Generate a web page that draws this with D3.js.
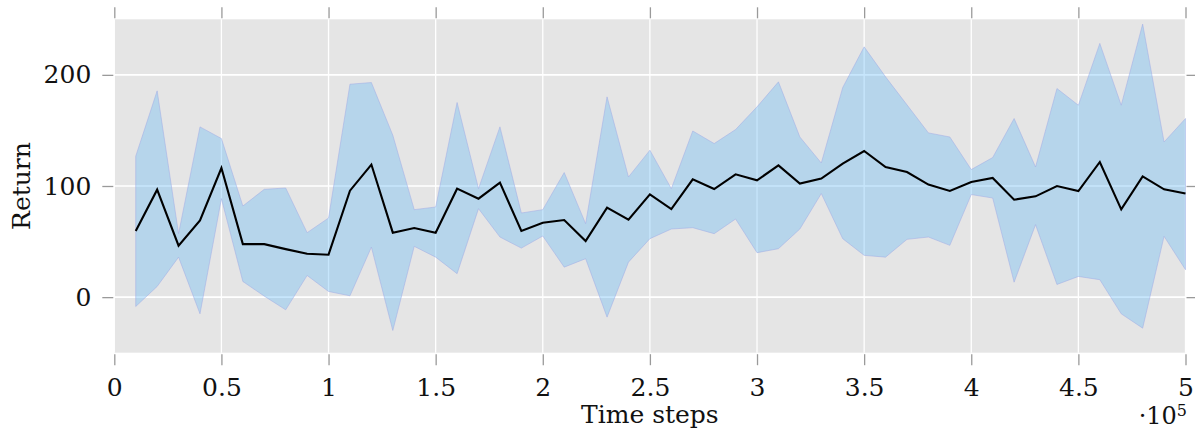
<!DOCTYPE html>
<meta charset="utf-8">
<title>Return over time steps</title>
<script src="https://d3js.org/d3.v7.min.js"></script>
<style>
body { margin: 0; background: #fff; }
text { font-family: "DejaVu Serif", serif; fill: #111; }
</style>
<div id="chart"></div>
<script>
// time steps (x) and the three series
const steps = [10000, 20000, 30000, 40000, 50000, 60000, 70000, 80000, 90000, 100000,
  110000, 120000, 130000, 140000, 150000, 160000, 170000, 180000, 190000, 200000,
  210000, 220000, 230000, 240000, 250000, 260000, 270000, 280000, 290000, 300000,
  310000, 320000, 330000, 340000, 350000, 360000, 370000, 380000, 390000, 400000,
  410000, 420000, 430000, 440000, 450000, 460000, 470000, 480000, 490000, 500000];

const meanReturn = [59.5, 96.7, 46.3, 69.1, 116.2, 47.7, 47.7, 43.2, 39.1, 38.2,
  95.8, 119.3, 58, 62.2, 58, 97.6, 88.6, 103, 59.5, 67,
  69.4, 50.5, 80.5, 69.7, 92.5, 79.3, 106, 97.3, 110.5, 105.1,
  118.6, 102.2, 106.7, 120.2, 131.5, 117.1, 112.6, 101.3, 95.5, 103.6,
  107.2, 87.7, 90.7, 100, 95.5, 121.6, 79, 108.7, 97, 93.2];

const upperReturn = [126.8, 185.6, 57.1, 153.2, 142.7, 82, 97, 98.2, 58, 71.2,
  191.6, 193.1, 145.7, 78.7, 81.1, 175.1, 97.6, 153.2, 75.7, 78.7,
  112.1, 66.1, 180.2, 108.1, 132.2, 97.6, 149.5, 138.2, 150.8, 171.2,
  193.7, 144.1, 120.7, 188.6, 225.2, 198.2, 173, 147.8, 144.1, 114.8,
  125.6, 160.7, 117.1, 187.7, 172.7, 228.3, 172.7, 245.7, 139.6, 160.7];

const lowerReturn = [-8.4, 9.6, 36, -15, 88.6, 14.1, 0.9, -11.4, 19.5, 5.1,
  1.2, 45, -30, 45.7, 36, 21.1, 79.6, 54.1, 44.1, 55,
  27, 34.6, -18, 31.5, 52.6, 61.3, 62.5, 57.1, 70.3, 40,
  43.6, 61.3, 93.2, 52.6, 37.6, 36, 52, 54.1, 46.6, 92.3,
  89.2, 13.5, 65.2, 11.4, 18.6, 15.7, -15, -27.9, 54.7, 24.7];

const xTicks = [0, 50000, 100000, 150000, 200000, 250000, 300000, 350000, 400000, 450000, 500000];
const yTicks = [0, 100, 200];

const width = 1195, height = 430;
const plot = {left: 114.3, right: 1185.5, top: 19.3, bottom: 352.7};

const svg = d3.select("#chart").append("svg")
    .attr("width", width)
    .attr("height", height);

const x = d3.scaleLinear().domain([0, 500000]).range([plot.left, plot.right]);
const y = d3.scaleLinear().domain([-50, 250]).range([plot.bottom, plot.top]);

const data = steps.map((s, i) => ({s: s, m: meanReturn[i], hi: upperReturn[i], lo: lowerReturn[i]}));

// background
svg.append("rect")
    .attr("x", plot.left).attr("y", plot.top)
    .attr("width", plot.right - plot.left)
    .attr("height", plot.bottom - plot.top)
    .attr("fill", "#e5e5e5");

// grid
svg.append("g").selectAll("line")
    .data(xTicks).enter().append("line")
    .attr("x1", d => x(d)).attr("x2", d => x(d))
    .attr("y1", plot.top).attr("y2", plot.bottom)
    .attr("stroke", "#fff").attr("stroke-width", 1.3);
svg.append("g").selectAll("line")
    .data(yTicks).enter().append("line")
    .attr("x1", plot.left).attr("x2", plot.right)
    .attr("y1", d => y(d)).attr("y2", d => y(d))
    .attr("stroke", "#fff").attr("stroke-width", 1.6);

// band
const area = d3.area()
    .x(d => x(d.s))
    .y0(d => y(d.lo))
    .y1(d => y(d.hi));
svg.append("path")
    .datum(data)
    .attr("d", area)
    .attr("fill", "rgb(100,186,246)")
    .attr("fill-opacity", 0.36)
    .attr("stroke", "rgb(160,170,230)")
    .attr("stroke-opacity", 0.5)
    .attr("stroke-width", 1);

// mean line
svg.append("path")
    .datum(data)
    .attr("d", d3.line().x(d => x(d.s)).y(d => y(d.m)))
    .attr("fill", "none")
    .attr("stroke", "#000")
    .attr("stroke-width", 2.1)
    .attr("stroke-linejoin", "miter");

// axes (ticks only, no domain line)
function styleAxis(g) {
    g.select(".domain").remove();
    g.selectAll(".tick line").attr("stroke", "#9a9a9a").attr("stroke-width", 1.3);
    g.selectAll(".tick text")
        .style("font-family", "'DejaVu Serif', serif")
        .style("font-size", "25px")
        .attr("fill", "#111");
}

svg.append("g")
    .attr("transform", `translate(0,${plot.bottom + 1.5})`)
    .call(d3.axisBottom(x).tickValues(xTicks).tickSize(11).tickPadding(13)
        .tickFormat(d => String(d / 100000)))
    .call(styleAxis);

svg.append("g")
    .attr("transform", `translate(0,${plot.top - 1})`)
    .call(d3.axisTop(x).tickValues(xTicks).tickSize(11).tickFormat(""))
    .call(styleAxis);

svg.append("g")
    .attr("transform", `translate(${plot.left - 1},0)`)
    .call(d3.axisLeft(y).tickValues(yTicks).tickSize(11).tickPadding(11))
    .call(styleAxis);

svg.append("g")
    .attr("transform", `translate(${plot.right + 1},0)`)
    .call(d3.axisRight(y).tickValues(yTicks).tickSize(11).tickFormat(""))
    .call(styleAxis);

// labels
svg.append("text")
    .attr("x", (plot.left + plot.right) / 2)
    .attr("y", 423)
    .attr("text-anchor", "middle")
    .style("font-size", "25px")
    .text("Time steps");

svg.append("text")
    .attr("transform", `translate(30,${y(100)}) rotate(-90)`)
    .attr("text-anchor", "middle")
    .style("font-size", "25px")
    .text("Return");

const expo = svg.append("text")
    .attr("x", 1187)
    .attr("y", 424)
    .attr("text-anchor", "end")
    .style("font-size", "24px");
expo.append("tspan").text("\u00b710");
expo.append("tspan").attr("dy", -8).style("font-size", "16px").text("5");
</script>
